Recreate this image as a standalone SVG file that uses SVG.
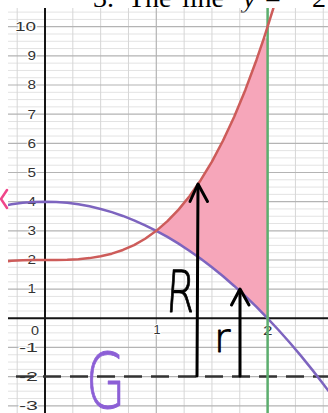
<svg xmlns="http://www.w3.org/2000/svg" width="328" height="413" viewBox="0 0 328 413">
<style>
.gmin{stroke:#e3e3e3;stroke-width:1;fill:none}
.gminv{stroke:#d6d6d6;stroke-width:1;fill:none}
.gmaj{stroke:#b4b4b4;stroke-width:1.2;fill:none}
.axis{stroke:#151515;stroke-width:2;fill:none}
.lbl{font-family:"Liberation Sans",Arial,sans-serif;font-size:12.5px;fill:#333;stroke:#fff;stroke-width:2;paint-order:stroke;stroke-linejoin:round}
.curve{fill:none;stroke-width:2.5;stroke-linejoin:round;stroke-linecap:round}
.arrow{fill:none;stroke:#000;stroke-width:3;stroke-linecap:round;stroke-linejoin:round}
.hand{font-family:"DejaVu Sans","Liberation Sans",sans-serif;font-weight:200;stroke-width:0.9;stroke-linejoin:round}
</style>
<defs>
<clipPath id="plot"><rect x="8" y="8" width="320" height="405"/></clipPath>
</defs>
<rect width="328" height="413" fill="#fff"/>
<text x="93" y="7" font-family="'Liberation Serif','Times New Roman',serif" font-size="28" fill="#000"><tspan x="93">3.</tspan><tspan x="128">The</tspan><tspan x="182">line</tspan><tspan x="243" font-style="italic">y</tspan><tspan x="265">=</tspan><tspan x="284">−</tspan><tspan x="312">2</tspan></text>
<g id="grid" clip-path="url(#plot)">
<path class="gmin" d="M8 12.12H328M8 19.41H328M8 33.99H328M8 41.28H328M8 48.57H328M8 63.15H328M8 70.44H328M8 77.73H328M8 92.31H328M8 99.6H328M8 106.89H328M8 121.47H328M8 128.76H328M8 136.05H328M8 150.63H328M8 157.92H328M8 165.21H328M8 179.79H328M8 187.08H328M8 194.37H328M8 208.95H328M8 216.24H328M8 223.53H328M8 238.11H328M8 245.4H328M8 252.69H328M8 267.27H328M8 274.56H328M8 281.85H328M8 296.43H328M8 303.72H328M8 311.01H328M8 325.59H328M8 332.88H328M8 340.17H328M8 354.75H328M8 362.04H328M8 369.33H328M8 383.91H328M8 391.2H328M8 398.49H328"/>
<path class="gminv" d="M17.18 8V413M72.83 8V413M100.65 8V413M128.48 8V413M184.13 8V413M211.95 8V413M239.78 8V413M295.43 8V413M323.25 8V413"/>
<path class="gmaj" d="M8 26.7H328M8 55.86H328M8 85.02H328M8 114.18H328M8 143.34H328M8 172.5H328M8 201.66H328M8 230.82H328M8 259.98H328M8 289.14H328M8 347.46H328M8 376.62H328M8 405.78H328M156.3 8V413M267.6 8V413"/>
<path class="axis" d="M8 318.3H328M45 8V413"/>
</g>
<g id="labels">
<text class="lbl" x="15" y="31" textLength="21" lengthAdjust="spacingAndGlyphs">10</text>
<text class="lbl" x="27.5" y="60.2" textLength="8.5" lengthAdjust="spacingAndGlyphs">9</text>
<text class="lbl" x="27.5" y="89.3" textLength="8.5" lengthAdjust="spacingAndGlyphs">8</text>
<text class="lbl" x="27.5" y="118.5" textLength="8.5" lengthAdjust="spacingAndGlyphs">7</text>
<text class="lbl" x="27.5" y="147.6" textLength="8.5" lengthAdjust="spacingAndGlyphs">6</text>
<text class="lbl" x="27.5" y="176.8" textLength="8.5" lengthAdjust="spacingAndGlyphs">5</text>
<text class="lbl" x="27.5" y="206" textLength="8.5" lengthAdjust="spacingAndGlyphs">4</text>
<text class="lbl" x="27.5" y="235.1" textLength="8.5" lengthAdjust="spacingAndGlyphs">3</text>
<text class="lbl" x="27.5" y="264.3" textLength="8.5" lengthAdjust="spacingAndGlyphs">2</text>
<text class="lbl" x="27.5" y="293.4" textLength="8.5" lengthAdjust="spacingAndGlyphs">1</text>
<text class="lbl" x="31" y="334.5" textLength="8" lengthAdjust="spacingAndGlyphs">0</text>
<text class="lbl" x="19" y="351.8" textLength="19" lengthAdjust="spacingAndGlyphs">-1</text>
<text class="lbl" x="19" y="380.9" textLength="19" lengthAdjust="spacingAndGlyphs">-2</text>
<text class="lbl" x="19" y="410.1" textLength="19" lengthAdjust="spacingAndGlyphs">-3</text>
<text class="lbl" x="153.5" y="333.5" textLength="7" lengthAdjust="spacingAndGlyphs">1</text>
<text class="lbl" x="263" y="334.5" textLength="9.5" lengthAdjust="spacingAndGlyphs">2</text>
</g>
<g id="region" clip-path="url(#plot)">
<path fill="#f6a6ba" d="M156.3 230.82L167.43 221.17L178.56 209.59L189.69 195.92L200.82 179.97L211.95 161.56L223.08 140.54L234.21 116.71L245.34 89.92L256.47 59.97L263.93 38.05L267.6 38.4L267.6 318.3L256.47 306.93L245.34 296.14L234.21 285.93L223.08 276.31L211.95 267.27L200.82 258.81L189.69 250.94L178.56 243.65L167.43 236.94Z"/>
</g>
<g id="line-y-neg2" clip-path="url(#plot)">
<line x1="-11" y1="376.62" x2="328" y2="376.62" stroke="#333" stroke-width="2.5" stroke-dasharray="18 9"/>
</g>
<g id="curves" clip-path="url(#plot)">
<path id="g-curve" class="curve" stroke="#7d64bf" d="M-0.63 206.56L11.61 204.29L22.74 202.83L33.87 201.95L45 201.66L56.13 201.95L67.26 202.83L78.39 204.29L89.52 206.33L100.65 208.95L111.78 212.16L122.91 215.95L134.04 220.32L145.17 225.28L156.3 230.82L167.43 236.94L178.56 243.65L189.69 250.94L200.82 258.81L211.95 267.27L223.08 276.31L234.21 285.93L245.34 296.14L256.47 306.93L267.6 318.3L278.73 330.26L289.86 342.79L300.99 355.92L312.12 369.62L323.25 383.91L328.8 391.27"/>
<line id="x2" x1="267.6" y1="8" x2="267.6" y2="413" stroke="#5cae6e" stroke-width="2.5"/>
<path id="f-curve" class="curve" stroke="#cd5c5a" d="M-0.63 261.99L11.61 260.77L22.74 260.21L33.87 260.01L45 259.98L56.13 259.95L67.26 259.75L78.39 259.19L89.52 258.11L100.65 256.33L111.78 253.68L122.91 249.98L134.04 245.05L145.17 238.72L156.3 230.82L167.43 221.17L178.56 209.59L189.69 195.92L200.82 179.97L211.95 161.56L223.08 140.54L234.21 116.71L245.34 89.92L256.47 59.97L263.93 38.05L267.6 26.7L273.17 8.76L278.73 -10.07"/>
</g>
<g id="arrow-R">
<path class="arrow" d="M197 376L198 185"/>
<path class="arrow" d="M190 201.5L198 184L207.5 201.5"/>
</g>
<g id="arrow-r">
<path class="arrow" d="M240 376L240 290"/>
<path class="arrow" d="M231.5 305L240 289L249 305"/>
</g>
<g id="handwriting">
<text class="hand" transform="translate(165,312) skewX(-4) scale(0.72,1)" font-size="58" fill="#000" stroke="#000">R</text>
<text class="hand" x="214" y="352" font-size="40" fill="#000" stroke="#000">r</text>
<text class="hand" transform="translate(86,408) scale(0.66,1)" font-size="77" fill="#8c5fd6" stroke="#8c5fd6">G</text>
<polyline points="7,190 1,199 7,208" fill="none" stroke="#f0468a" stroke-width="2.5" stroke-linecap="round" stroke-linejoin="round"/>
</g>
</svg>
